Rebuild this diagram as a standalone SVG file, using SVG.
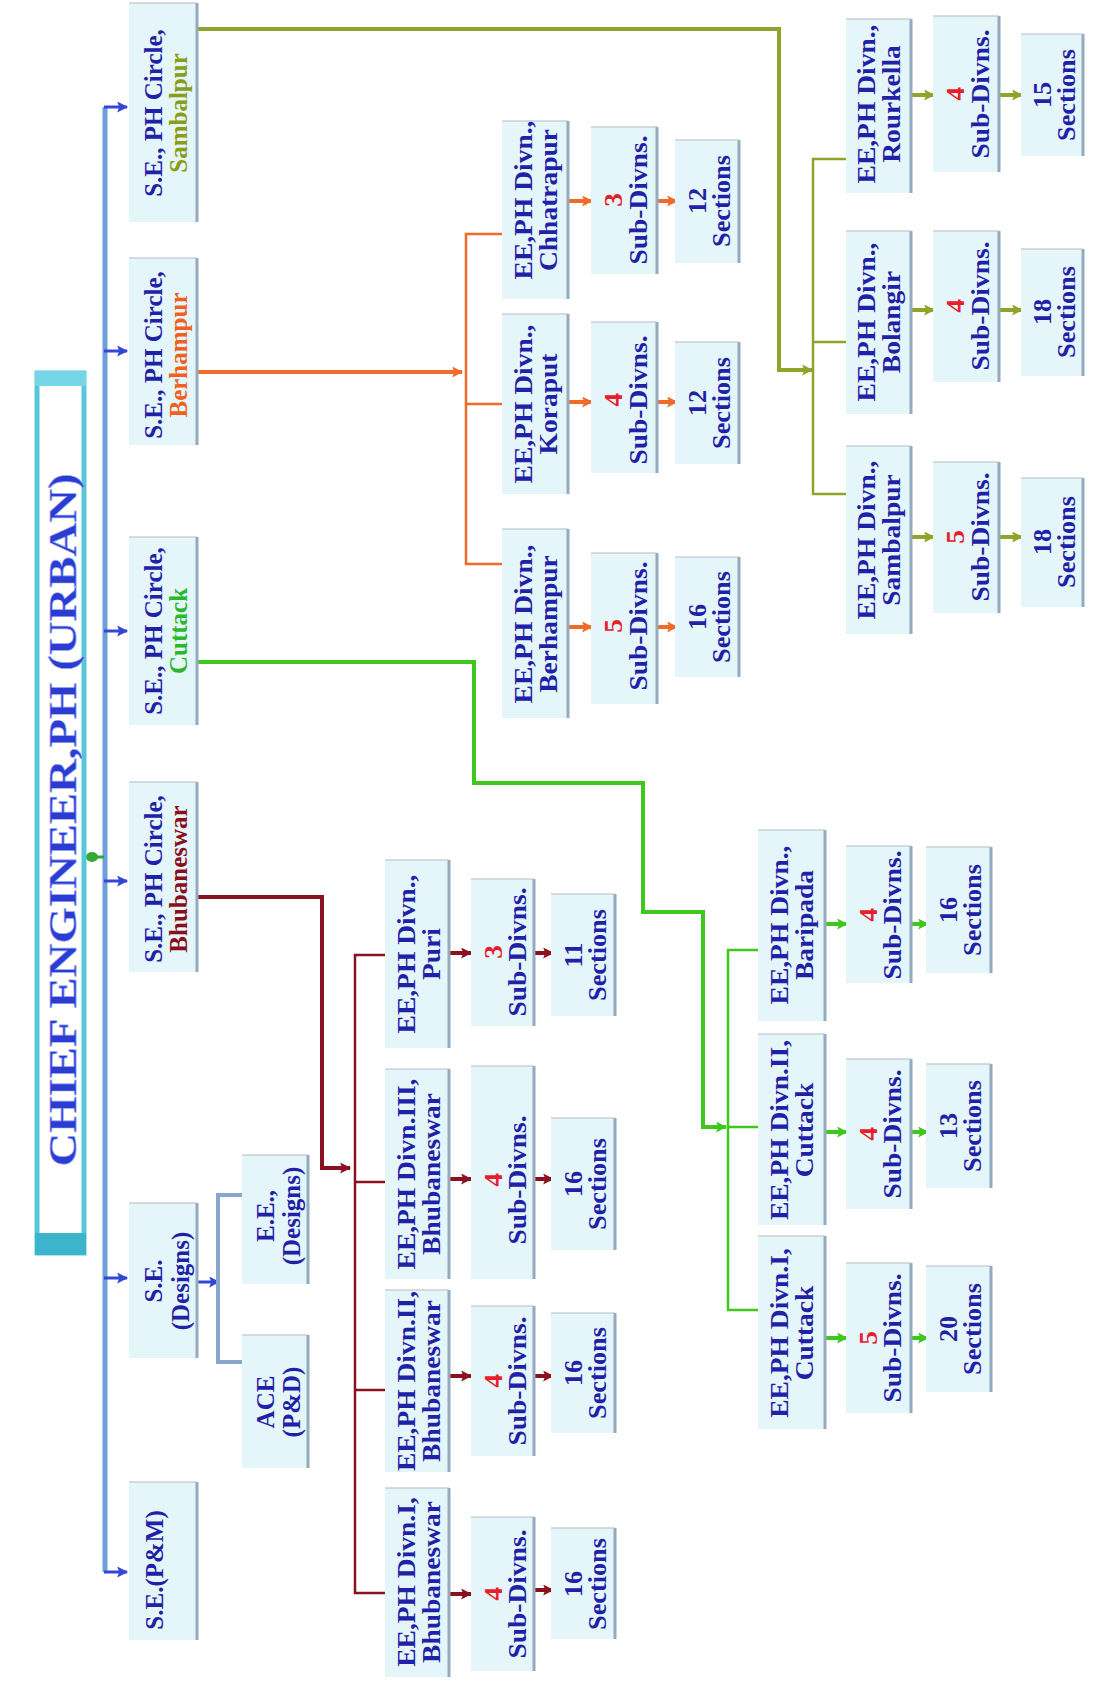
<svg xmlns="http://www.w3.org/2000/svg" width="1093" height="1686" viewBox="0 0 1093 1686">
<style>
.bx{fill:#e5f6fb;stroke:none}
.re{stroke:#93abbd;stroke-width:3}
.te{stroke:#b3bcc4;stroke-width:1.2}
.t{font-family:"Liberation Serif","Times New Roman",serif;font-weight:bold;font-size:25px;text-anchor:middle;dominant-baseline:central;fill:#1f22a6}
.r{fill:#e5202c}
.cs{fill:#8a9c18}.co{fill:#f0601e}.cg{fill:#2cb82c}.cr{fill:#8b0f1a}
.ln{fill:none;stroke-width:4;stroke-linejoin:miter}
.br{fill:none;stroke-width:2.5}
.ar{fill:none;stroke-width:4}
</style>
<defs>
<marker id="mB" viewBox="0 0 10 10" refX="9" refY="5" markerWidth="12" markerHeight="11" markerUnits="userSpaceOnUse" orient="auto"><path d="M0,0 L10,5 L0,10 L2,5 z" fill="#3346d6"/></marker>
<marker id="mR" viewBox="0 0 10 10" refX="9" refY="5" markerWidth="12" markerHeight="11" markerUnits="userSpaceOnUse" orient="auto"><path d="M0,0 L10,5 L0,10 L2,5 z" fill="#8b1020"/></marker>
<marker id="mO" viewBox="0 0 10 10" refX="9" refY="5" markerWidth="12" markerHeight="11" markerUnits="userSpaceOnUse" orient="auto"><path d="M0,0 L10,5 L0,10 L2,5 z" fill="#f06a2a"/></marker>
<marker id="mG" viewBox="0 0 10 10" refX="9" refY="5" markerWidth="12" markerHeight="11" markerUnits="userSpaceOnUse" orient="auto"><path d="M0,0 L10,5 L0,10 L2,5 z" fill="#3ec81e"/></marker>
<marker id="mS" viewBox="0 0 10 10" refX="9" refY="5" markerWidth="12" markerHeight="11" markerUnits="userSpaceOnUse" orient="auto"><path d="M0,0 L10,5 L0,10 L2,5 z" fill="#8ea42a"/></marker>
</defs>
<rect width="1093" height="1686" fill="#ffffff"/>

<g id="connectors">
  <!-- main bus -->
  <path d="M105,107 V1572" fill="none" stroke="#6d9fdc" stroke-width="5"/>
  <g stroke="#3346d6" stroke-width="3" marker-end="url(#mB)">
    <path d="M104,107 H127"/><path d="M104,351 H127"/><path d="M104,631 H127"/>
    <path d="M104,881 H127"/><path d="M104,1278 H127"/><path d="M104,1572 H127"/>
    <path d="M197,1282 H219"/>
  </g>
  <path d="M84,857 H104" stroke="#33aa33" stroke-width="3"/>
  <ellipse cx="92" cy="857" rx="6" ry="5" fill="#33aa33"/>
  <!-- designs bracket -->
  <path d="M242,1195 H218 V1362 H242" fill="none" stroke="#86a8cc" stroke-width="4"/>
  <!-- Bhubaneswar -->
  <g stroke="#8b1020">
    <path class="ln" d="M197,897 H322 V1168 H350" marker-end="url(#mR)"/>
    <path class="br" d="M385,955 H355 V1593 H385 M355,1182 H385 M355,1390 H385"/>
    <g class="ar" marker-end="url(#mR)">
      <path d="M449,953 H471"/><path d="M534,953 H553"/>
      <path d="M449,1179 H471"/><path d="M534,1179 H553"/>
      <path d="M449,1376 H471"/><path d="M534,1376 H553"/>
      <path d="M449,1594 H471"/><path d="M534,1590 H553"/>
    </g>
  </g>
  <!-- Berhampur -->
  <g stroke="#f06a2a">
    <path class="ln" d="M197,372 H462" marker-end="url(#mO)"/>
    <path class="br" d="M502,234 H466 V564 H502 M466,404 H502"/>
    <g class="ar" marker-end="url(#mO)">
      <path d="M568,201 H592"/><path d="M657,201 H677"/>
      <path d="M568,402 H592"/><path d="M657,402 H677"/>
      <path d="M568,627 H592"/><path d="M657,627 H677"/>
    </g>
  </g>
  <!-- Cuttack -->
  <g stroke="#3ec81e">
    <path class="ln" d="M197,662 H474 V783 H643 V912 H703 V1127 H726" marker-end="url(#mG)"/>
    <path class="br" d="M758,950 H728 V1310 H758 M728,1127 H758"/>
    <g class="ar" marker-end="url(#mG)">
      <path d="M825,924 H847"/><path d="M911,924 H928"/>
      <path d="M825,1132 H847"/><path d="M911,1132 H928"/>
      <path d="M825,1338 H847"/><path d="M911,1338 H928"/>
    </g>
  </g>
  <!-- Sambalpur -->
  <g stroke="#8ea42a">
    <path class="ln" d="M197,29 H779 V370 H812" marker-end="url(#mS)"/>
    <path class="br" d="M846,159 H813 V494 H846 M813,342 H846"/>
    <g class="ar" marker-end="url(#mS)">
      <path d="M911,95 H934"/><path d="M999,95 H1022"/>
      <path d="M911,310 H934"/><path d="M999,310 H1022"/>
      <path d="M911,537 H934"/><path d="M999,537 H1022"/>
    </g>
  </g>
</g>

<g id="chief">
  <rect x="37" y="373" width="47" height="880" fill="#ffffff" stroke="#55c7d8" stroke-width="5"/>
  <rect x="35" y="371" width="51" height="15" fill="#74d6e6"/>
  <rect x="35" y="1233" width="51" height="22" fill="#3cb4cc"/>
  <text class="t" transform="translate(62,820) rotate(-90)" style="font-size:40px;fill:#2a3cd2" stroke="#9fb0f5" stroke-width="0.6" textLength="693" lengthAdjust="spacingAndGlyphs">CHIEF ENGINEER,PH (URBAN)</text>
</g>

<!-- SE boxes -->
<g id="se-sambalpur"><rect class="bx" x="129" y="3" width="68" height="219"/><line class="re" x1="197" y1="3" x2="197" y2="222"/><line class="te" x1="129" y1="3" x2="197" y2="3"/>
  <text class="t" transform="translate(163,113) rotate(-90)"><tspan x="0" y="-10">S.E., PH Circle,</tspan><tspan x="0" y="15" class="cs">Sambalpur</tspan></text></g>
<g id="se-berhampur"><rect class="bx" x="129" y="258" width="68" height="187"/><line class="re" x1="197" y1="258" x2="197" y2="445"/><line class="te" x1="129" y1="258" x2="197" y2="258"/>
  <text class="t" transform="translate(163,355) rotate(-90)"><tspan x="0" y="-10">S.E., PH Circle,</tspan><tspan x="0" y="15" class="co">Berhampur</tspan></text></g>
<g id="se-cuttack"><rect class="bx" x="129" y="537" width="68" height="188"/><line class="re" x1="197" y1="537" x2="197" y2="725"/><line class="te" x1="129" y1="537" x2="197" y2="537"/>
  <text class="t" transform="translate(163,631) rotate(-90)"><tspan x="0" y="-10">S.E., PH Circle,</tspan><tspan x="0" y="15" class="cg">Cuttack</tspan></text></g>
<g id="se-bhubaneswar"><rect class="bx" x="129" y="782" width="68" height="190"/><line class="re" x1="197" y1="782" x2="197" y2="972"/><line class="te" x1="129" y1="782" x2="197" y2="782"/>
  <text class="t" transform="translate(163,879) rotate(-90)"><tspan x="0" y="-10">S.E., PH Circle,</tspan><tspan x="0" y="15" class="cr">Bhubaneswar</tspan></text></g>
<g id="se-designs"><rect class="bx" x="129" y="1203" width="68" height="155"/><line class="re" x1="197" y1="1203" x2="197" y2="1358"/><line class="te" x1="129" y1="1203" x2="197" y2="1203"/>
  <text class="t" transform="translate(163,1281) rotate(-90)"><tspan x="0" y="-10">S.E.</tspan><tspan x="0" y="17">(Designs)</tspan></text></g>
<g id="se-pm"><rect class="bx" x="129" y="1482" width="68" height="158"/><line class="re" x1="197" y1="1482" x2="197" y2="1640"/><line class="te" x1="129" y1="1482" x2="197" y2="1482"/>
  <text class="t" transform="translate(163,1570) rotate(-90)"><tspan x="0" y="-9">S.E.(P&amp;M)</tspan></text></g>

<!-- Designs children -->
<g id="ee-designs"><rect class="bx" x="242" y="1155" width="66" height="129"/><line class="re" x1="308" y1="1155" x2="308" y2="1284"/><line class="te" x1="242" y1="1155" x2="308" y2="1155"/>
  <text class="t" transform="translate(275,1216) rotate(-90)"><tspan x="0" y="-10">E.E.,</tspan><tspan x="0" y="16">(Designs)</tspan></text></g>
<g id="ace-pd"><rect class="bx" x="242" y="1335" width="66" height="133"/><line class="re" x1="308" y1="1335" x2="308" y2="1468"/><line class="te" x1="242" y1="1335" x2="308" y2="1335"/>
  <text class="t" transform="translate(275,1402) rotate(-90)"><tspan x="0" y="-10">ACE</tspan><tspan x="0" y="16">(P&amp;D)</tspan></text></g>

<!-- Bhubaneswar group -->
<g id="ee-puri"><rect class="bx" x="385" y="860" width="64" height="188"/><line class="re" x1="449" y1="860" x2="449" y2="1048"/><line class="te" x1="385" y1="860" x2="449" y2="860"/>
  <text class="t" transform="translate(417,954) rotate(-90) scale(1.1,1)"><tspan x="0" y="-11">EE,PH Divn.,</tspan><tspan x="0" y="14">Puri</tspan></text></g>
<g id="ee-bbsr3"><rect class="bx" x="385" y="1069" width="64" height="210"/><line class="re" x1="449" y1="1069" x2="449" y2="1279"/><line class="te" x1="385" y1="1069" x2="449" y2="1069"/>
  <text class="t" transform="translate(417,1174) rotate(-90) scale(1.1,1)"><tspan x="0" y="-11">EE,PH Divn.III,</tspan><tspan x="0" y="14">Bhubaneswar</tspan></text></g>
<g id="ee-bbsr2"><rect class="bx" x="385" y="1290" width="64" height="182"/><line class="re" x1="449" y1="1290" x2="449" y2="1472"/><line class="te" x1="385" y1="1290" x2="449" y2="1290"/>
  <text class="t" transform="translate(417,1381) rotate(-90) scale(1.1,1)"><tspan x="0" y="-11">EE,PH Divn.II,</tspan><tspan x="0" y="14">Bhubaneswar</tspan></text></g>
<g id="ee-bbsr1"><rect class="bx" x="385" y="1488" width="64" height="189"/><line class="re" x1="449" y1="1488" x2="449" y2="1677"/><line class="te" x1="385" y1="1488" x2="449" y2="1488"/>
  <text class="t" transform="translate(417,1582) rotate(-90) scale(1.1,1)"><tspan x="0" y="-11">EE,PH Divn.I,</tspan><tspan x="0" y="14">Bhubaneswar</tspan></text></g>
<g id="sd-puri"><rect class="bx" x="471" y="879" width="63" height="147"/><line class="re" x1="534" y1="879" x2="534" y2="1026"/><line class="te" x1="471" y1="879" x2="534" y2="879"/>
  <text class="t" transform="translate(502,952) rotate(-90) scale(1.1,1)"><tspan x="0" y="-9" class="r">3</tspan><tspan x="0" y="15">Sub-Divns.</tspan></text></g>
<g id="sd-bbsr3"><rect class="bx" x="471" y="1066" width="63" height="213"/><line class="re" x1="534" y1="1066" x2="534" y2="1279"/><line class="te" x1="471" y1="1066" x2="534" y2="1066"/>
  <text class="t" transform="translate(502,1180) rotate(-90) scale(1.1,1)"><tspan x="0" y="-9" class="r">4</tspan><tspan x="0" y="15">Sub-Divns.</tspan></text></g>
<g id="sd-bbsr2"><rect class="bx" x="471" y="1306" width="63" height="150"/><line class="re" x1="534" y1="1306" x2="534" y2="1456"/><line class="te" x1="471" y1="1306" x2="534" y2="1306"/>
  <text class="t" transform="translate(502,1381) rotate(-90) scale(1.1,1)"><tspan x="0" y="-9" class="r">4</tspan><tspan x="0" y="15">Sub-Divns.</tspan></text></g>
<g id="sd-bbsr1"><rect class="bx" x="471" y="1517" width="63" height="154"/><line class="re" x1="534" y1="1517" x2="534" y2="1671"/><line class="te" x1="471" y1="1517" x2="534" y2="1517"/>
  <text class="t" transform="translate(502,1594) rotate(-90) scale(1.1,1)"><tspan x="0" y="-9" class="r">4</tspan><tspan x="0" y="15">Sub-Divns.</tspan></text></g>
<g id="sec-puri"><rect class="bx" x="551" y="894" width="64" height="122"/><line class="re" x1="615" y1="894" x2="615" y2="1016"/><line class="te" x1="551" y1="894" x2="615" y2="894"/>
  <text class="t" transform="translate(583,955) rotate(-90) scale(1.05,1)"><tspan x="0" y="-10">11</tspan><tspan x="0" y="14">Sections</tspan></text></g>
<g id="sec-bbsr3"><rect class="bx" x="551" y="1118" width="64" height="132"/><line class="re" x1="615" y1="1118" x2="615" y2="1250"/><line class="te" x1="551" y1="1118" x2="615" y2="1118"/>
  <text class="t" transform="translate(583,1184) rotate(-90) scale(1.05,1)"><tspan x="0" y="-10">16</tspan><tspan x="0" y="14">Sections</tspan></text></g>
<g id="sec-bbsr2"><rect class="bx" x="551" y="1313" width="64" height="120"/><line class="re" x1="615" y1="1313" x2="615" y2="1433"/><line class="te" x1="551" y1="1313" x2="615" y2="1313"/>
  <text class="t" transform="translate(583,1373) rotate(-90) scale(1.05,1)"><tspan x="0" y="-10">16</tspan><tspan x="0" y="14">Sections</tspan></text></g>
<g id="sec-bbsr1"><rect class="bx" x="551" y="1528" width="64" height="111"/><line class="re" x1="615" y1="1528" x2="615" y2="1639"/><line class="te" x1="551" y1="1528" x2="615" y2="1528"/>
  <text class="t" transform="translate(583,1584) rotate(-90) scale(1.05,1)"><tspan x="0" y="-10">16</tspan><tspan x="0" y="14">Sections</tspan></text></g>

<!-- Berhampur group -->
<g id="ee-chhatrapur"><rect class="bx" x="502" y="121" width="66" height="178"/><line class="re" x1="568" y1="121" x2="568" y2="299"/><line class="te" x1="502" y1="121" x2="568" y2="121"/>
  <text class="t" transform="translate(535,200) rotate(-90) scale(1.1,1)"><tspan x="0" y="-12">EE,PH Divn.,</tspan><tspan x="0" y="13">Chhatrapur</tspan></text></g>
<g id="ee-koraput"><rect class="bx" x="502" y="314" width="66" height="180"/><line class="re" x1="568" y1="314" x2="568" y2="494"/><line class="te" x1="502" y1="314" x2="568" y2="314"/>
  <text class="t" transform="translate(535,404) rotate(-90) scale(1.1,1)"><tspan x="0" y="-12">EE,PH Divn.,</tspan><tspan x="0" y="13">Koraput</tspan></text></g>
<g id="ee-berhampur"><rect class="bx" x="502" y="529" width="66" height="189"/><line class="re" x1="568" y1="529" x2="568" y2="718"/><line class="te" x1="502" y1="529" x2="568" y2="529"/>
  <text class="t" transform="translate(535,624) rotate(-90) scale(1.1,1)"><tspan x="0" y="-12">EE,PH Divn.,</tspan><tspan x="0" y="13">Berhampur</tspan></text></g>
<g id="sd-chhatrapur"><rect class="bx" x="591" y="127" width="66" height="147"/><line class="re" x1="657" y1="127" x2="657" y2="274"/><line class="te" x1="591" y1="127" x2="657" y2="127"/>
  <text class="t" transform="translate(624,200) rotate(-90) scale(1.1,1)"><tspan x="0" y="-11" class="r">3</tspan><tspan x="0" y="14">Sub-Divns.</tspan></text></g>
<g id="sd-koraput"><rect class="bx" x="591" y="322" width="66" height="151"/><line class="re" x1="657" y1="322" x2="657" y2="473"/><line class="te" x1="591" y1="322" x2="657" y2="322"/>
  <text class="t" transform="translate(624,400) rotate(-90) scale(1.1,1)"><tspan x="0" y="-11" class="r">4</tspan><tspan x="0" y="14">Sub-Divns.</tspan></text></g>
<g id="sd-berhampur"><rect class="bx" x="591" y="553" width="66" height="151"/><line class="re" x1="657" y1="553" x2="657" y2="704"/><line class="te" x1="591" y1="553" x2="657" y2="553"/>
  <text class="t" transform="translate(624,626) rotate(-90) scale(1.1,1)"><tspan x="0" y="-11" class="r">5</tspan><tspan x="0" y="14">Sub-Divns.</tspan></text></g>
<g id="sec-chhatrapur"><rect class="bx" x="675" y="140" width="64" height="123"/><line class="re" x1="739" y1="140" x2="739" y2="263"/><line class="te" x1="675" y1="140" x2="739" y2="140"/>
  <text class="t" transform="translate(707,201) rotate(-90) scale(1.05,1)"><tspan x="0" y="-10">12</tspan><tspan x="0" y="14">Sections</tspan></text></g>
<g id="sec-koraput"><rect class="bx" x="675" y="342" width="64" height="122"/><line class="re" x1="739" y1="342" x2="739" y2="464"/><line class="te" x1="675" y1="342" x2="739" y2="342"/>
  <text class="t" transform="translate(707,403) rotate(-90) scale(1.05,1)"><tspan x="0" y="-10">12</tspan><tspan x="0" y="14">Sections</tspan></text></g>
<g id="sec-berhampur"><rect class="bx" x="675" y="557" width="64" height="120"/><line class="re" x1="739" y1="557" x2="739" y2="677"/><line class="te" x1="675" y1="557" x2="739" y2="557"/>
  <text class="t" transform="translate(707,617) rotate(-90) scale(1.05,1)"><tspan x="0" y="-10">16</tspan><tspan x="0" y="14">Sections</tspan></text></g>

<!-- Cuttack group -->
<g id="ee-baripada"><rect class="bx" x="758" y="830" width="67" height="191"/><line class="re" x1="825" y1="830" x2="825" y2="1021"/><line class="te" x1="758" y1="830" x2="825" y2="830"/>
  <text class="t" transform="translate(791,925) rotate(-90) scale(1.1,1)"><tspan x="0" y="-12">EE,PH Divn.,</tspan><tspan x="0" y="13">Baripada</tspan></text></g>
<g id="ee-cuttack2"><rect class="bx" x="758" y="1034" width="67" height="191"/><line class="re" x1="825" y1="1034" x2="825" y2="1225"/><line class="te" x1="758" y1="1034" x2="825" y2="1034"/>
  <text class="t" transform="translate(791,1130) rotate(-90) scale(1.1,1)"><tspan x="0" y="-12">EE,PH Divn.II,</tspan><tspan x="0" y="13">Cuttack</tspan></text></g>
<g id="ee-cuttack1"><rect class="bx" x="758" y="1236" width="67" height="193"/><line class="re" x1="825" y1="1236" x2="825" y2="1429"/><line class="te" x1="758" y1="1236" x2="825" y2="1236"/>
  <text class="t" transform="translate(791,1333) rotate(-90) scale(1.1,1)"><tspan x="0" y="-12">EE,PH Divn.I,</tspan><tspan x="0" y="13">Cuttack</tspan></text></g>
<g id="sd-baripada"><rect class="bx" x="846" y="846" width="65" height="137"/><line class="re" x1="911" y1="846" x2="911" y2="983"/><line class="te" x1="846" y1="846" x2="911" y2="846"/>
  <text class="t" transform="translate(878,915) rotate(-90) scale(1.1,1)"><tspan x="0" y="-10" class="r">4</tspan><tspan x="0" y="14">Sub-Divns.</tspan></text></g>
<g id="sd-cuttack2"><rect class="bx" x="846" y="1059" width="65" height="150"/><line class="re" x1="911" y1="1059" x2="911" y2="1209"/><line class="te" x1="846" y1="1059" x2="911" y2="1059"/>
  <text class="t" transform="translate(878,1134) rotate(-90) scale(1.1,1)"><tspan x="0" y="-10" class="r">4</tspan><tspan x="0" y="14">Sub-Divns.</tspan></text></g>
<g id="sd-cuttack1"><rect class="bx" x="846" y="1263" width="65" height="150"/><line class="re" x1="911" y1="1263" x2="911" y2="1413"/><line class="te" x1="846" y1="1263" x2="911" y2="1263"/>
  <text class="t" transform="translate(878,1338) rotate(-90) scale(1.1,1)"><tspan x="0" y="-10" class="r">5</tspan><tspan x="0" y="14">Sub-Divns.</tspan></text></g>
<g id="sec-baripada"><rect class="bx" x="926" y="847" width="65" height="126"/><line class="re" x1="991" y1="847" x2="991" y2="973"/><line class="te" x1="926" y1="847" x2="991" y2="847"/>
  <text class="t" transform="translate(958,910) rotate(-90) scale(1.05,1)"><tspan x="0" y="-10">16</tspan><tspan x="0" y="14">Sections</tspan></text></g>
<g id="sec-cuttack2"><rect class="bx" x="926" y="1064" width="65" height="124"/><line class="re" x1="991" y1="1064" x2="991" y2="1188"/><line class="te" x1="926" y1="1064" x2="991" y2="1064"/>
  <text class="t" transform="translate(958,1126) rotate(-90) scale(1.05,1)"><tspan x="0" y="-10">13</tspan><tspan x="0" y="14">Sections</tspan></text></g>
<g id="sec-cuttack1"><rect class="bx" x="926" y="1266" width="65" height="126"/><line class="re" x1="991" y1="1266" x2="991" y2="1392"/><line class="te" x1="926" y1="1266" x2="991" y2="1266"/>
  <text class="t" transform="translate(958,1329) rotate(-90) scale(1.05,1)"><tspan x="0" y="-10">20</tspan><tspan x="0" y="14">Sections</tspan></text></g>

<!-- Sambalpur group -->
<g id="ee-rourkella"><rect class="bx" x="846" y="19" width="65" height="174"/><line class="re" x1="911" y1="19" x2="911" y2="193"/><line class="te" x1="846" y1="19" x2="911" y2="19"/>
  <text class="t" transform="translate(878,104) rotate(-90) scale(1.1,1)"><tspan x="0" y="-12">EE,PH Divn.,</tspan><tspan x="0" y="13">Rourkella</tspan></text></g>
<g id="ee-bolangir"><rect class="bx" x="846" y="231" width="65" height="183"/><line class="re" x1="911" y1="231" x2="911" y2="414"/><line class="te" x1="846" y1="231" x2="911" y2="231"/>
  <text class="t" transform="translate(878,322) rotate(-90) scale(1.1,1)"><tspan x="0" y="-12">EE,PH Divn.,</tspan><tspan x="0" y="13">Bolangir</tspan></text></g>
<g id="ee-sambalpur"><rect class="bx" x="846" y="446" width="65" height="188"/><line class="re" x1="911" y1="446" x2="911" y2="634"/><line class="te" x1="846" y1="446" x2="911" y2="446"/>
  <text class="t" transform="translate(878,540) rotate(-90) scale(1.1,1)"><tspan x="0" y="-12">EE,PH Divn.,</tspan><tspan x="0" y="13">Sambalpur</tspan></text></g>
<g id="sd-rourkella"><rect class="bx" x="933" y="16" width="66" height="156"/><line class="re" x1="999" y1="16" x2="999" y2="172"/><line class="te" x1="933" y1="16" x2="999" y2="16"/>
  <text class="t" transform="translate(966,94) rotate(-90) scale(1.1,1)"><tspan x="0" y="-11" class="r">4</tspan><tspan x="0" y="14">Sub-Divns.</tspan></text></g>
<g id="sd-bolangir"><rect class="bx" x="933" y="231" width="66" height="151"/><line class="re" x1="999" y1="231" x2="999" y2="382"/><line class="te" x1="933" y1="231" x2="999" y2="231"/>
  <text class="t" transform="translate(966,306) rotate(-90) scale(1.1,1)"><tspan x="0" y="-11" class="r">4</tspan><tspan x="0" y="14">Sub-Divns.</tspan></text></g>
<g id="sd-sambalpur"><rect class="bx" x="933" y="462" width="66" height="151"/><line class="re" x1="999" y1="462" x2="999" y2="613"/><line class="te" x1="933" y1="462" x2="999" y2="462"/>
  <text class="t" transform="translate(966,537) rotate(-90) scale(1.1,1)"><tspan x="0" y="-11" class="r">5</tspan><tspan x="0" y="14">Sub-Divns.</tspan></text></g>
<g id="sec-rourkella"><rect class="bx" x="1021" y="34" width="62" height="122"/><line class="re" x1="1083" y1="34" x2="1083" y2="156"/><line class="te" x1="1021" y1="34" x2="1083" y2="34"/>
  <text class="t" transform="translate(1052,95) rotate(-90) scale(1.05,1)"><tspan x="0" y="-10">15</tspan><tspan x="0" y="14">Sections</tspan></text></g>
<g id="sec-bolangir"><rect class="bx" x="1021" y="249" width="62" height="127"/><line class="re" x1="1083" y1="249" x2="1083" y2="376"/><line class="te" x1="1021" y1="249" x2="1083" y2="249"/>
  <text class="t" transform="translate(1052,312) rotate(-90) scale(1.05,1)"><tspan x="0" y="-10">18</tspan><tspan x="0" y="14">Sections</tspan></text></g>
<g id="sec-sambalpur"><rect class="bx" x="1021" y="478" width="62" height="129"/><line class="re" x1="1083" y1="478" x2="1083" y2="607"/><line class="te" x1="1021" y1="478" x2="1083" y2="478"/>
  <text class="t" transform="translate(1052,542) rotate(-90) scale(1.05,1)"><tspan x="0" y="-10">18</tspan><tspan x="0" y="14">Sections</tspan></text></g>
</svg>
